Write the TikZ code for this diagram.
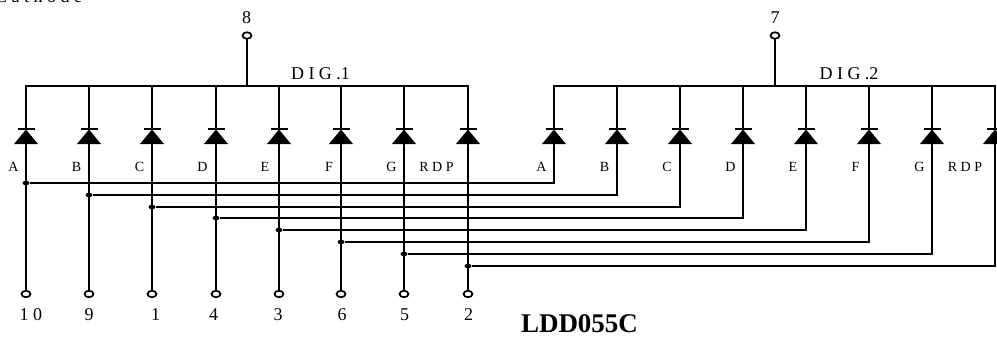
\documentclass[tikz,border=0pt]{standalone}
\usepackage{fontspec}
\setmainfont{Liberation Serif}
\usetikzlibrary{shapes.geometric}
\tikzset{
  every path/.style = {line width = 1.7pt, line cap = rect},
  diode/.style = {isosceles triangle, isosceles triangle stretches, shape border rotate = 90, fill, inner sep = 0pt, outer sep = 0pt, minimum width = 24pt, minimum height = 14.5pt, anchor = apex, label = {[bar, label distance = -1pt]90:{}}},
  bar/.style = {fill, inner sep = 0pt, minimum width = 17pt, minimum height = 1.5pt},
  pin/.style = {draw, ellipse, inner sep = 0pt, minimum width = 9pt, minimum height = 6.5pt},
  dot/.style = {fill, ellipse, inner sep = 0pt, minimum width = 7pt, minimum height = 4.5pt},
  tag/.style = {inner sep = 0pt, font = \fontsize{14}{16}\selectfont},
  num/.style = {inner sep = 0pt, font = \fontsize{18}{20}\selectfont}
}
\begin{document}
\begin{tikzpicture}[x = 1pt, y = -1pt]
\useasboundingbox (0,0) rectangle (997,341);
% first digit
\node[diode](a1) at (26,129.5){}; \node[diode](b1) at (89,129.5){}; \node[diode](c1) at (152,129.5){}; \node[diode](d1) at (216,129.5){};
\node[diode](e1) at (279,129.5){}; \node[diode](f1) at (341,129.5){}; \node[diode](g1) at (404,129.5){}; \node[diode](h1) at (468,129.5){};
% second digit
\node[diode](a2) at (554,129.5){}; \node[diode](b2) at (617,129.5){}; \node[diode](c2) at (680,129.5){}; \node[diode](d2) at (743,129.5){};
\node[diode](e2) at (806,129.5){}; \node[diode](f2) at (869,129.5){}; \node[diode](g2) at (932,129.5){}; \node[diode](h2) at (995,129.5){};
% bus ends and taps
\coordinate (ta1) at (26,86); \coordinate (tb1) at (89,86); \coordinate (tc1) at (152,86); \coordinate (td1) at (216,86);
\coordinate (te1) at (279,86); \coordinate (tf1) at (341,86); \coordinate (tg1) at (404,86); \coordinate (th1) at (468,86);
\coordinate (ta2) at (554,86); \coordinate (tb2) at (617,86); \coordinate (tc2) at (680,86); \coordinate (td2) at (743,86);
\coordinate (te2) at (806,86); \coordinate (tf2) at (869,86); \coordinate (tg2) at (932,86); \coordinate (th2) at (995,86);
\coordinate (t8) at (247,86); \coordinate (t7) at (775,86);
% pins
\node[pin](p8) at (247,35.5){}; \node[pin](p7) at (775,35.5){};
\node[pin](p10) at (26,294){}; \node[pin](p9) at (89,294){}; \node[pin](p1) at (152,294){}; \node[pin](p4) at (216,294){};
\node[pin](p3) at (279,294){}; \node[pin](p6) at (341,294){}; \node[pin](p5) at (404,294){}; \node[pin](p2) at (468,294){};
% junctions
\node[dot](ja) at (26,183){}; \node[dot](jb) at (89,195){}; \node[dot](jc) at (152,207){}; \node[dot](jd) at (216,218){};
\node[dot](je) at (279,230){}; \node[dot](jf) at (341,242){}; \node[dot](jg) at (404,254){}; \node[dot](jh) at (468,266){};
% labels
\node[num](l8) at (246.5,18){8}; \node[num](l7) at (775,18){7};
\node[num](l10) at (31,315){1 0}; \node[num](l9) at (89,315){9}; \node[num](l1) at (155.5,315){1}; \node[num](l4) at (213.5,315){4};
\node[num](l3) at (278,315){3}; \node[num](l6) at (342,315){6}; \node[num](l5) at (404.5,315){5}; \node[num](l2) at (468.5,315){2};
\node[num](dig1) at (320.5,73.5){D I G .1}; \node[num](dig2) at (849,73.5){D I G .2};
\node[tag](na1) at (13.5,166.5){A}; \node[tag](nb1) at (76.5,166.5){B}; \node[tag](nc1) at (139.5,166.5){C}; \node[tag](nd1) at (202.5,166.5){D};
\node[tag](ne1) at (265,166.5){E}; \node[tag](nf1) at (329,166.5){F}; \node[tag](ng1) at (391.5,166.5){G}; \node[tag](nh1) at (436.5,166.5){R D P};
\node[tag](na2) at (541.5,166.5){A}; \node[tag](nb2) at (604.5,166.5){B}; \node[tag](nc2) at (667,166.5){C}; \node[tag](nd2) at (730.5,166.5){D};
\node[tag](ne2) at (793,166.5){E}; \node[tag](nf2) at (855.5,166.5){F}; \node[tag](ng2) at (919.5,166.5){G}; \node[tag](nh2) at (965,166.5){R D P};
\node[anchor = base east, inner sep = 0pt, font = \fontsize{18}{20}\selectfont](title) at (83,2){C a t h o d e};
\node[inner sep = 0pt, font = \fontsize{27}{30}\selectfont\bfseries](part) at (579.5,324){LDD055C};
% buses
\draw (ta1) -- (th1);
\draw (ta2) -- (th2);
\draw (p8) -- (t8);
\draw (p7) -- (t7);
\draw (ta1) -- (a1); \draw (tb1) -- (b1); \draw (tc1) -- (c1); \draw (td1) -- (d1);
\draw (te1) -- (e1); \draw (tf1) -- (f1); \draw (tg1) -- (g1); \draw (th1) -- (h1);
\draw (ta2) -- (a2); \draw (tb2) -- (b2); \draw (tc2) -- (c2); \draw (td2) -- (d2);
\draw (te2) -- (e2); \draw (tf2) -- (f2); \draw (tg2) -- (g2); \draw (th2) -- (h2);
% down to the pins
\draw (a1) -- (p10); \draw (b1) -- (p9); \draw (c1) -- (p1); \draw (d1) -- (p4);
\draw (e1) -- (p3); \draw (f1) -- (p6); \draw (g1) -- (p5); \draw (h1) -- (p2);
% cross wiring
\draw (ja) -| (a2); \draw (jb) -| (b2); \draw (jc) -| (c2); \draw (jd) -| (d2);
\draw (je) -| (e2); \draw (jf) -| (f2); \draw (jg) -| (g2); \draw (jh) -| (h2);
\end{tikzpicture}
\end{document}
